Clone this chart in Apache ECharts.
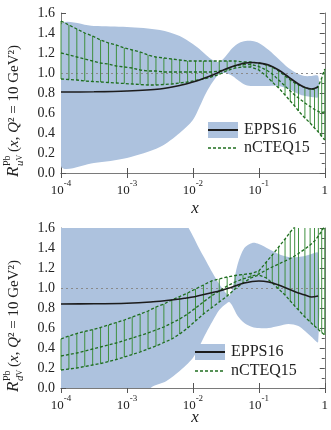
<!DOCTYPE html>
<html><head><meta charset="utf-8">
<script src="https://cdn.jsdelivr.net/npm/echarts@6/dist/echarts.min.js"></script>
<style>html,body{margin:0;padding:0;background:#fff}#c{width:331px;height:430px}</style>
</head><body><div id="c"></div>
<script>
// ---------- data (x given as log10 x) ----------
const eppsTopLogX   = [-4, -3.5, -3, -2.5, -2.2, -2.0, -1.9, -1.8, -1.7, -1.6, -1.5, -1.4, -1.3, -1.2, -1.1, -1.0, -0.85, -0.7, -0.55, -0.4, -0.3, -0.2, -0.1];
const eppsTopUpper  = [1.48, 1.47, 1.46, 1.43, 1.37, 1.29, 1.24, 1.18, 1.13, 1.11, 1.17, 1.25, 1.30, 1.32, 1.32, 1.30, 1.23, 1.14, 1.05, 0.99, 0.97, 0.97, 0.97];
const eppsTopLower  = [0.07, 0.10, 0.15, 0.26, 0.40, 0.53, 0.66, 0.80, 0.91, 0.99, 1.00, 0.97, 0.92, 0.88, 0.87, 0.87, 0.87, 0.87, 0.84, 0.79, 0.77, 0.76, 0.76];
const eppsTopCentral= [0.81, 0.812, 0.82, 0.84, 0.875, 0.91, 0.93, 0.955, 0.98, 1.01, 1.04, 1.065, 1.085, 1.10, 1.105, 1.10, 1.08, 1.03, 0.96, 0.89, 0.855, 0.84, 0.86];

const eppsBotLogX   = [-4, -3.5, -3, -2.64, -2.4, -2.2, -2.1, -2.0, -1.9, -1.8, -1.7, -1.6, -1.5, -1.45, -1.4, -1.32, -1.22, -1.1, -1.0, -0.85, -0.7, -0.55, -0.4, -0.3, -0.2, -0.1];
const eppsBotUpper  = [2.5, 2.5, 2.4, 2.2, 1.95, 1.74, 1.64, 1.52, 1.39, 1.27, 1.15, 1.04, 0.95, 0.92, 1.0, 1.24, 1.40, 1.45, 1.44, 1.39, 1.34, 1.31, 1.31, 1.32, 1.34, 1.35];
const eppsBotLower  = [-0.6, -0.5, -0.3, 0.0, 0.07, 0.17, 0.23, 0.30, 0.42, 0.55, 0.67, 0.78, 0.84, 0.86, 0.82, 0.72, 0.65, 0.61, 0.60, 0.60, 0.62, 0.64, 0.62, 0.57, 0.51, 0.46];
const eppsBotCentral= [0.84, 0.842, 0.848, 0.86, 0.875, 0.89, 0.90, 0.91, 0.925, 0.94, 0.955, 0.97, 0.99, 1.0, 1.01, 1.03, 1.05, 1.065, 1.07, 1.06, 1.03, 0.99, 0.95, 0.93, 0.91, 0.92];

const nctLogX = [-4, -3.88, -3.76, -3.64, -3.52, -3.40, -3.28, -3.16, -3.04, -2.92, -2.80, -2.68, -2.56, -2.44, -2.32, -2.20, -2.08, -1.96, -1.84, -1.72, -1.60, -1.48, -1.36, -1.24, -1.12, -1.00,
  -0.886, -0.796, -0.699, -0.602, -0.523, -0.456, -0.398, -0.301, -0.222, -0.155, -0.097, -0.046, 0];
const nctTopUpper = [1.52, 1.48, 1.44, 1.40, 1.37, 1.33, 1.30, 1.28, 1.25, 1.23, 1.21, 1.18, 1.16, 1.15, 1.14, 1.13, 1.12, 1.12, 1.12, 1.12, 1.12, 1.12, 1.12, 1.11, 1.11, 1.10,
  1.08, 1.06, 1.02, 0.97, 0.93, 0.90, 0.88, 0.855, 0.84, 0.835, 0.87, 0.95, 1.04];
const nctTopCentral = [1.20, 1.18, 1.16, 1.14, 1.12, 1.10, 1.09, 1.07, 1.06, 1.05, 1.03, 1.02, 1.02, 1.01, 1.01, 1.01, 1.01, 1.01, 1.01, 1.01, 1.02, 1.04, 1.07, 1.085, 1.085, 1.065,
  1.03, 0.99, 0.93, 0.87, 0.82, 0.78, 0.75, 0.70, 0.665, 0.635, 0.615, 0.605, 0.61];
const nctTopLower = [0.94, 0.935, 0.93, 0.92, 0.915, 0.91, 0.905, 0.90, 0.895, 0.89, 0.885, 0.88, 0.88, 0.885, 0.89, 0.90, 0.91, 0.925, 0.94, 0.96, 0.985, 1.025, 1.05, 1.06, 1.06, 1.03,
  0.97, 0.91, 0.85, 0.78, 0.72, 0.67, 0.62, 0.55, 0.50, 0.45, 0.41, 0.365, 0.33];
const nctBotUpper = [0.49, 0.52, 0.545, 0.565, 0.585, 0.605, 0.63, 0.655, 0.68, 0.71, 0.74, 0.77, 0.81, 0.84, 0.88, 0.915, 0.95, 0.99, 1.03, 1.07, 1.09, 1.11, 1.125, 1.135, 1.145, 1.17,
  1.26, 1.33, 1.41, 1.49, 1.56, 1.61, 1.68, 1.80, 1.92, 2.02, 2.12, 2.20, 2.28];
const nctBotCentral = [0.32, 0.335, 0.35, 0.37, 0.39, 0.41, 0.43, 0.45, 0.475, 0.50, 0.525, 0.55, 0.58, 0.61, 0.65, 0.69, 0.74, 0.80, 0.86, 0.92, 0.97, 1.02, 1.06, 1.09, 1.115, 1.14,
  1.18, 1.21, 1.24, 1.27, 1.295, 1.32, 1.345, 1.39, 1.43, 1.47, 1.52, 1.57, 1.62];
const nctBotLower = [0.18, 0.19, 0.20, 0.215, 0.23, 0.245, 0.265, 0.285, 0.31, 0.335, 0.36, 0.39, 0.42, 0.455, 0.49, 0.54, 0.60, 0.67, 0.74, 0.80, 0.86, 0.92, 0.99, 1.05, 1.10, 1.13,
  1.10, 1.05, 0.99, 0.93, 0.87, 0.82, 0.78, 0.71, 0.66, 0.62, 0.585, 0.555, 0.53];

const yTicks = [0, 0.2, 0.4, 0.6, 0.8, 1.0, 1.2, 1.4, 1.6];
const refLine = 1.0;
const legendNames = ['EPPS16', 'nCTEQ15'];

// ---------- styling ----------
const FONT = '"Liberation Serif", "DejaVu Serif", serif';
const BAND = '#adc2de', DARK = '#1c1c1c', GREEN = '#1f6e1f', HATCH = '#3f903f', FRAME = '#7a7a7a', TXT = '#222';
const Y_MIN = yTicks[0], Y_MAX = yTicks[yTicks.length - 1];

function toX(l) { return Math.pow(10, l); }
function pairs(lx, ys) { return lx.map((l, i) => [toX(l), ys[i]]); }

const panels = [
  { epX: eppsTopLogX, epU: eppsTopUpper, epL: eppsTopLower, epC: eppsTopCentral, nU: nctTopUpper, nC: nctTopCentral, nL: nctTopLower },
  { epX: eppsBotLogX, epU: eppsBotUpper, epL: eppsBotLower, epC: eppsBotCentral, nU: nctBotUpper, nC: nctBotCentral, nL: nctBotLower }
];

const grids = [
  { left: 61, top: 13, width: 267, height: 160 },
  { left: 61, top: 228, width: 267, height: 160 }
];

const xAxes = [], yAxes = [], series = [];
panels.forEach((p, g) => {
  const baseX = {
    gridIndex: g, type: 'log', logBase: 10, min: 1e-4, max: 1,
    axisLine: { show: true, lineStyle: { color: FRAME, width: 1 } },
    axisTick: { show: true, inside: true, length: 5, lineStyle: { color: '#555' } },
    minorTick: { show: false }, splitLine: { show: false }
  };
  xAxes.push(Object.assign({}, baseX, {
    position: 'bottom',
    axisLabel: {
      margin: 6, color: TXT, fontFamily: FONT,
      formatter: v => { const e = Math.round(Math.log10(v)); return e === 0 ? '{b|1}' : '{b|10}{s|' + e + '}'; },
      rich: {
        b: { fontSize: 13, fontFamily: FONT, color: TXT, lineHeight: 18, verticalAlign: 'bottom' },
        s: { fontSize: 9, fontFamily: FONT, color: TXT, lineHeight: 18, verticalAlign: 'top' }
      }
    }
  }));
  xAxes.push(Object.assign({}, baseX, { position: 'top', axisLabel: { show: false } }));
  const baseY = {
    gridIndex: g, type: 'value', min: Y_MIN, max: Y_MAX, interval: 0.2,
    axisLine: { show: true, lineStyle: { color: FRAME, width: 1 } },
    axisTick: { show: true, inside: true, length: 5, lineStyle: { color: '#555' } },
    minorTick: { show: true, splitNumber: 2, length: 3, lineStyle: { color: '#555' } },
    splitLine: { show: false }
  };
  yAxes.push(Object.assign({}, baseY, {
    position: 'left',
    axisLabel: { formatter: v => v.toFixed(1), fontFamily: FONT, fontSize: 14, color: TXT, margin: 6 }
  }));
  yAxes.push(Object.assign({}, baseY, { position: 'right', axisLabel: { show: false } }));

  const xi = g * 2, yi = g * 2;
  // EPPS16 uncertainty band as a clipped, smoothed polygon
  series.push({
    type: 'custom', xAxisIndex: xi, yAxisIndex: yi, z: 1, silent: true,
    data: p.epX.map((l, i) => [toX(l), p.epL[i], p.epU[i]]),
    encode: { x: 0, y: [1, 2] },
    renderItem: (params, api) => {
      if (params.dataIndex !== 0) return null;
      const pts = [];
      for (let i = 0; i < p.epX.length; i++) pts.push(api.coord([toX(p.epX[i]), p.epU[i]]));
      for (let i = p.epX.length - 1; i >= 0; i--) pts.push(api.coord([toX(p.epX[i]), p.epL[i]]));
      const cs = params.coordSys;
      return {
        type: 'polygon', shape: { points: pts, smooth: 0.3 }, style: { fill: BAND },
        clipPath: { type: 'rect', shape: { x: cs.x, y: cs.y, width: cs.width, height: cs.height } }
      };
    }
  });
  // nCTEQ15 hatch
  series.push({
    type: 'custom', xAxisIndex: xi, yAxisIndex: yi, z: 3, silent: true,
    data: nctLogX.map((l, i) => [toX(l), p.nL[i], p.nU[i]]),
    encode: { x: 0, y: [1, 2] },
    renderItem: (params, api) => {
      const x = api.value(0), a = api.value(1), b = api.value(2);
      const lo = Math.max(Math.min(a, b), Y_MIN), hi = Math.min(Math.max(a, b), Y_MAX);
      if (hi <= lo) return null;
      const p1 = api.coord([x, lo]), p2 = api.coord([x, hi]);
      return { type: 'line', shape: { x1: p1[0], y1: p1[1], x2: p2[0], y2: p2[1] },
               style: { stroke: HATCH, lineWidth: 1 } };
    }
  });
  [p.nU, p.nC, p.nL].forEach((arr, k) => {
    const s = {
      type: 'line', xAxisIndex: xi, yAxisIndex: yi, data: pairs(nctLogX, arr), symbol: 'none',
      lineStyle: { color: GREEN, width: 1.3, type: [3, 2] }, silent: true, z: 4
    };
    if (k === 0) s.markLine = {
      silent: true, symbol: ['none', 'none'], z: 2, label: { show: false },
      lineStyle: { type: [2, 3], color: '#8a8a8a', width: 1 },
      data: [{ yAxis: refLine }]
    };
    series.push(s);
  });
  // EPPS16 central
  series.push({
    type: 'line', xAxisIndex: xi, yAxisIndex: yi, data: pairs(p.epX, p.epC), symbol: 'none', smooth: 0.3,
    lineStyle: { color: DARK, width: 1.6 }, silent: true, z: 5
  });
});

function legend(x0, y0, gap) {
  return [
    { type: 'rect', z: 10, shape: { x: x0, y: y0 - 8, width: 30, height: 16 }, style: { fill: BAND } },
    { type: 'line', z: 11, shape: { x1: x0, y1: y0, x2: x0 + 30, y2: y0 }, style: { stroke: DARK, lineWidth: 2 } },
    { type: 'text', z: 11, x: x0 + 36, y: y0, style: { text: legendNames[0], font: '16px ' + FONT, fill: TXT, verticalAlign: 'middle' } },
    { type: 'line', z: 11, shape: { x1: x0, y1: y0 + gap, x2: x0 + 30, y2: y0 + gap }, style: { stroke: GREEN, lineWidth: 1.4, lineDash: [3, 2] } },
    { type: 'text', z: 11, x: x0 + 36, y: y0 + gap, style: { text: legendNames[1], font: '16px ' + FONT, fill: TXT, verticalAlign: 'middle' } }
  ];
}
function yTitle(y, flav) {
  return {
    type: 'group', x: 14, y: y, rotation: Math.PI / 2, z: 10,
    children: [
      { type: 'text', x: 0, y: 0, style: { text: 'R', font: 'italic 17px ' + FONT, fill: TXT, verticalAlign: 'middle' } },
      { type: 'text', x: 11, y: -7, style: { text: 'Pb', font: '10px ' + FONT, fill: TXT, verticalAlign: 'middle' } },
      { type: 'text', x: 11, y: 6, style: { text: '{i|' + flav + '}{v|V}', verticalAlign: 'middle',
          rich: { i: { font: 'italic 11px ' + FONT, fill: TXT }, v: { font: '8px ' + FONT, fill: TXT } } } },
      { type: 'text', x: 25, y: 0, style: { text: '{n|(}{i|x}{n|, }{i|Q}{n|² = 10 GeV²)}', verticalAlign: 'middle',
          rich: { n: { font: '15px ' + FONT, fill: TXT }, i: { font: 'italic 15px ' + FONT, fill: TXT } } } }
    ]
  };
}

const graphics = [].concat(
  legend(208, 130, 18),
  legend(195, 352, 19),
  [yTitle(177, 'u'), yTitle(392, 'd'),
   { type: 'text', z: 10, x: 195, y: 209, style: { text: 'x', font: 'italic 17px ' + FONT, fill: TXT, align: 'center', verticalAlign: 'middle' } },
   { type: 'text', z: 10, x: 195, y: 418, style: { text: 'x', font: 'italic 17px ' + FONT, fill: TXT, align: 'center', verticalAlign: 'middle' } }]
);

const chart = echarts.init(document.getElementById('c'), null, { renderer: 'canvas' });
chart.setOption({
  animation: false,
  backgroundColor: '#fff',
  grid: grids,
  xAxis: xAxes,
  yAxis: yAxes,
  series: series,
  graphic: graphics
});
</script>
</body></html>
